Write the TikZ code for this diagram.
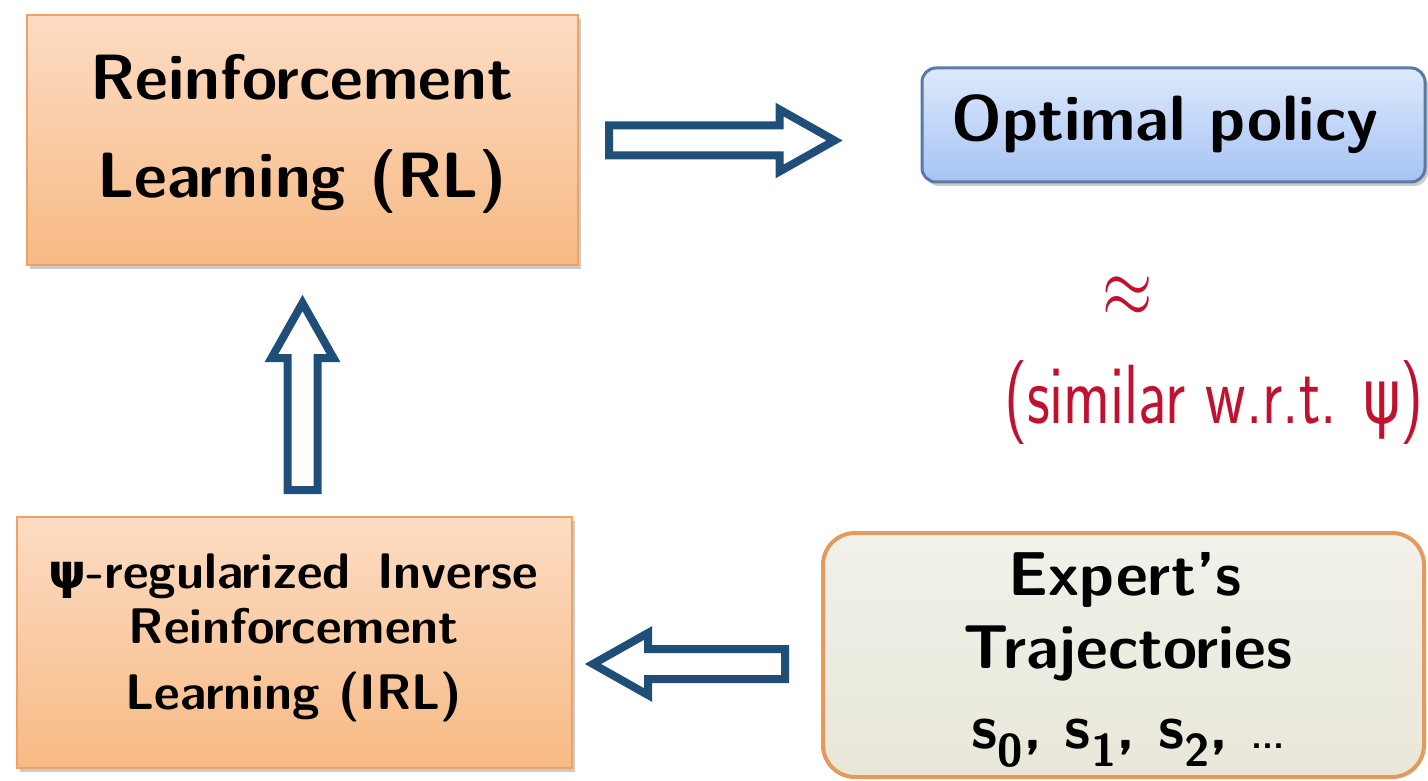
\documentclass[tikz,border=0pt]{standalone}
\usepackage{fix-cm}
\usepackage{fontspec}
\usepackage{graphicx}
\usetikzlibrary{calc,shadows}

\newfontfamily\grk{DejaVu Sans}

\definecolor{orgtop}{HTML}{FCDCC3}
\definecolor{orgbot}{HTML}{F7BA84}
\definecolor{orgline}{HTML}{EBA36A}
\definecolor{bluetop}{HTML}{DDE9FC}
\definecolor{bluebot}{HTML}{A6C3F3}
\definecolor{blueline}{HTML}{5A7AA6}
\definecolor{exptop}{HTML}{F2F1EA}
\definecolor{expbot}{HTML}{E8E7D9}
\definecolor{expline}{HTML}{E39A5C}
\definecolor{arrowblue}{HTML}{1F4E79}
\definecolor{simred}{HTML}{C0122E}

% geometry of the hollow block arrows (pt)
\newcommand\headlen{55}
\newcommand\shaftw{15pt}
\newcommand\headw{31pt}

% hollow block arrow from #1 (tail) to #2 (tip)
\newcommand\hollowarrow[2]{%
  \draw[hollow] let \p1=#1, \p2=#2,
      \n1={atan2(\y2-\y1,\x2-\x1)},
      \n2={veclen(\x2-\x1,\y2-\y1)-\headlen} in
    ($(\p1)+(\n1+90:\shaftw)$)
    -- ($(\p1)+(\n1:\n2)+(\n1+90:\shaftw)$)
    -- ($(\p1)+(\n1:\n2)+(\n1+90:\headw)$)
    -- (\p2)
    -- ($(\p1)+(\n1:\n2)+(\n1-90:\headw)$)
    -- ($(\p1)+(\n1:\n2)+(\n1-90:\shaftw)$)
    -- ($(\p1)+(\n1-90:\shaftw)$) -- cycle;}

\newcommand\subs[1]{\raisebox{-0.3em}{\fontsize{46}{46}\selectfont #1}}

\begin{document}
\begin{tikzpicture}[x=1pt,y=-1pt,
  boxshadow/.style={drop shadow={shadow xshift=3pt,shadow yshift=-4pt,fill=black!45,opacity=.45}},
  orangebox/.style={rectangle,draw=orgline,line width=2pt,top color=orgtop,bottom color=orgbot,boxshadow,inner sep=0pt},
  bluebox/.style={rectangle,rounded corners=14pt,draw=blueline,line width=3pt,top color=bluetop,bottom color=bluebot,boxshadow,inner sep=0pt},
  expbox/.style={rectangle,rounded corners=32pt,draw=expline,line width=4pt,top color=exptop,bottom color=expbot,inner sep=0pt},
  bigtxt/.style={font=\fontsize{64}{64}\selectfont\sffamily\bfseries,inner sep=0pt,anchor=base},
  midtxt/.style={font=\fontsize{50}{50}\selectfont\sffamily\bfseries,inner sep=0pt,anchor=base},
  exptxt/.style={font=\fontsize{62}{62}\selectfont\sffamily\bfseries,inner sep=0pt,anchor=base},
  redtxt/.style={font=\fontsize{84}{84}\selectfont\sffamily,text=simred,inner sep=0pt},
  hollow/.style={draw=arrowblue,fill=white,line width=8pt,line join=miter,miter limit=10}
]
\useasboundingbox (0,0) rectangle (1428,781);

% boxes
\node[orangebox,minimum width=551,minimum height=250] (rl) at (302.5,140) {};
\node[bluebox,minimum width=503,minimum height=114] (opt) at (1173.5,125) {};
\node[orangebox,minimum width=555,minimum height=251] (irl) at (294.5,642.5) {};
\node[expbox,minimum width=601,minimum height=244] (exp) at (1123.5,655) {};

% box texts
\node[bigtxt] (rlA) at (302,100) {Reinforcement};
\node[bigtxt] (rlB) at (302,197) {Learning (RL)};
\node[bigtxt] (optA) at (1165,141) {Optimal policy};
\node[midtxt] (irlA) at (293,588) {{\grk\fontsize{48}{48}\selectfont ψ}-regularized\ \,Inverse};
\node[midtxt] (irlB) at (294,643) {Reinforcement};
\node[midtxt] (irlC) at (294,709) {Learning (IRL)};
\node[exptxt] (expA) at (1125,595) {Expert’s};
\node[exptxt] (expB) at (1128,668) {Trajectories};
\node[exptxt] (expC) at (1128,748) {s\subs{0}, s\subs{1}, s\subs{2}, {\fontsize{36}{36}\selectfont ...}};

% similarity note
\node[redtxt] (approx) at (1128,297) {\scalebox{0.77}[1]{$\approx$}};
\node[redtxt,anchor=base] (sim) at (1214,423) {\scalebox{0.75}[1]{(similar w.r.t. {\grk\mdseries\fontsize{76}{76}\selectfont ψ})}};

% connectors
\hollowarrow{($(rl.east)+(30,0.5)$)}{($(opt.west)+(-86,15.5)$)}
\hollowarrow{($(irl.north-|rl.south)+(0,-26)$)}{($(rl.south)+(0,37)$)}
\hollowarrow{($(exp.west)+(-36,9)$)}{($(irl.east)+(20,21.5)$)}
\end{tikzpicture}
\end{document}
